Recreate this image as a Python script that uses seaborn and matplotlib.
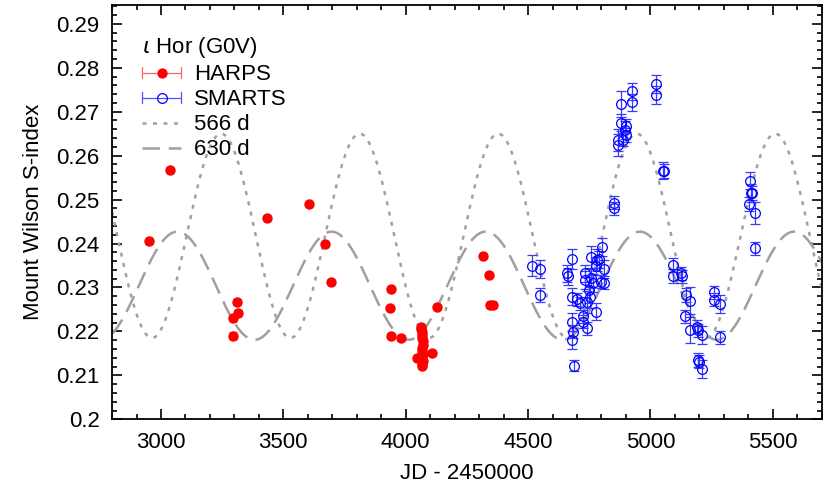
import numpy as np
import pandas as pd
import matplotlib
matplotlib.use('Agg')
import matplotlib.pyplot as plt
from matplotlib.lines import Line2D
from matplotlib.legend_handler import HandlerBase
from matplotlib.ticker import MultipleLocator, FuncFormatter
import seaborn as sns

# HARPS measurements (JD - 2450000, S-index, error)
harps_jd = [2952, 3037, 3293, 3296, 3313, 3309, 3434, 3605, 3672, 3695,
            3941, 3937, 3940, 3979, 4047, 4106, 4128, 4316, 4340, 4344, 4358,
            4062, 4064, 4066, 4067, 4068, 4069, 4070, 4068, 4066, 4071, 4065,
            4069, 4067, 4068]
harps_s = [0.2406, 0.2568, 0.2190, 0.2230, 0.2243, 0.2267, 0.2459, 0.2490,
           0.2398, 0.2313, 0.2296, 0.2253, 0.2189, 0.2184, 0.2140, 0.2150,
           0.2256, 0.2372, 0.2328, 0.2259, 0.2260,
           0.2210, 0.2205, 0.2198, 0.2192, 0.2185, 0.2178, 0.2170, 0.2163,
           0.2155, 0.2148, 0.2140, 0.2133, 0.2127, 0.2122]
harps_err = [0.0004, 0.0004, 0.0008, 0.0006, 0.0005, 0.0004, 0.0004, 0.0004,
             0.0004, 0.0004, 0.0004, 0.0004, 0.0004, 0.0004, 0.0005, 0.0004,
             0.0004, 0.0004, 0.0005, 0.0004, 0.0004,
             0.0004, 0.0004, 0.0004, 0.0004, 0.0004, 0.0004, 0.0004, 0.0004,
             0.0004, 0.0004, 0.0004, 0.0004, 0.0004, 0.0006]

# SMARTS measurements
smarts_jd = [4517, 4548, 4548, 4661, 4664, 4678, 4678, 4680, 4682, 4680,
             4689, 4701, 4713, 4723, 4723, 4741, 4739, 4731, 4731, 4749,
             4753, 4757, 4759, 4766, 4777, 4782, 4789, 4777, 4803, 4810,
             4800, 4810, 4851, 4851, 4868, 4868, 4878, 4878, 4889, 4896,
             4902, 4902, 4925, 4925, 5021, 5021, 5052, 5055, 5093, 5093,
             5127, 5130, 5145, 5143, 5161, 5161, 5191, 5195, 5211, 5195,
             5198, 5211, 5260, 5260, 5284, 5284, 5406, 5413, 5416, 5403,
             5427, 5427]
smarts_s = [0.2350, 0.2342, 0.2283, 0.2332, 0.2325, 0.2365, 0.2279, 0.2221,
            0.2199, 0.2181, 0.2122, 0.2273, 0.2264, 0.2234, 0.2222, 0.2207,
            0.2268, 0.2332, 0.2317, 0.2294, 0.2279, 0.2369, 0.2321, 0.2310,
            0.2349, 0.2363, 0.2364, 0.2245, 0.2392, 0.2342, 0.2313, 0.2311,
            0.2493, 0.2480, 0.2636, 0.2625, 0.2675, 0.2717, 0.2636, 0.2659,
            0.2668, 0.2647, 0.2746, 0.2721, 0.2763, 0.2738, 0.2566, 0.2565,
            0.2351, 0.2326, 0.2332, 0.2325, 0.2283, 0.2234, 0.2270, 0.2203,
            0.2211, 0.2203, 0.2192, 0.2135, 0.2131, 0.2114, 0.2289, 0.2272,
            0.2263, 0.2187, 0.2543, 0.2515, 0.2515, 0.2490, 0.2469, 0.2389]
smarts_err = [0.0023, 0.0020, 0.0015, 0.0020, 0.0020, 0.0022, 0.0020, 0.0020,
              0.0015, 0.0020, 0.0012, 0.0015, 0.0015, 0.0015, 0.0015, 0.0015,
              0.0025, 0.0020, 0.0020, 0.0030, 0.0025, 0.0025, 0.0020, 0.0020,
              0.0020, 0.0025, 0.0020, 0.0020, 0.0020, 0.0020, 0.0015, 0.0015,
              0.0015, 0.0015, 0.0025, 0.0025, 0.0020, 0.0030, 0.0015, 0.0020,
              0.0015, 0.0015, 0.0020, 0.0020, 0.0020, 0.0020, 0.0020, 0.0015,
              0.0015, 0.0015, 0.0015, 0.0015, 0.0015, 0.0015, 0.0030, 0.0030,
              0.0015, 0.0015, 0.0020, 0.0015, 0.0015, 0.0020, 0.0015, 0.0015,
              0.0020, 0.0015, 0.0020, 0.0020, 0.0015, 0.0015, 0.0025, 0.0015]

# sinusoidal cycle models: period, mean level, amplitude, epoch of maximum
cycle_labels = ['566 d', '630 d']
cycle_period = [566, 630]
cycle_mean = [0.24175, 0.2304]
cycle_amp = [0.02325, 0.0123]
cycle_peak = [3246, 3067]

GREY = '#a0a0a0'
DOTS = (1.6, 2.6)
DASH = (7, 3.5)


class HorizErrHandler(HandlerBase):
    """gnuplot style key: horizontal bar with end caps and a marker in the middle"""
    def __init__(self, color, ecolor, filled):
        super().__init__()
        self.color = color
        self.ecolor = ecolor
        self.filled = filled

    def create_artists(self, legend, orig, xd, yd, width, height, fontsize, trans):
        y = yd + height / 2
        cap = height * 0.35
        bar = Line2D([xd, xd + width], [y, y], color=self.ecolor, lw=0.9)
        c1 = Line2D([xd, xd], [y - cap, y + cap], color=self.ecolor, lw=0.9)
        c2 = Line2D([xd + width, xd + width], [y - cap, y + cap], color=self.ecolor, lw=0.9)
        mk = Line2D([xd + width / 2], [y], marker='o', color=self.color,
                    mfc=self.color if self.filled else 'none',
                    markersize=7 if not self.filled else 6.5, mew=0.9, ls='none')
        arts = [bar, c1, c2, mk]
        for a in arts:
            a.set_transform(trans)
        return arts


sns.set_style('ticks')
plt.rcParams['font.family'] = ['Liberation Sans', 'DejaVu Sans']
plt.rcParams['font.size'] = 16
plt.rcParams['text.color'] = 'black'
plt.rcParams['axes.labelcolor'] = 'black'
plt.rcParams['xtick.color'] = 'black'
plt.rcParams['ytick.color'] = 'black'
plt.rcParams['axes.edgecolor'] = 'black'

fig = plt.figure(figsize=(8.3, 4.91), dpi=100)
ax = fig.add_axes([0.135, 0.146, 0.855, 0.844])

grid = np.linspace(2800, 5700, 2000)
frames = []
for lab, per, mu, amp, t0 in zip(cycle_labels, cycle_period, cycle_mean, cycle_amp, cycle_peak):
    frames.append(pd.DataFrame({'jd': grid,
                                's': mu + amp * np.cos(2 * np.pi * (grid - t0) / per),
                                'model': lab}))
models = pd.concat(frames)

sns.lineplot(data=models, x='jd', y='s', hue='model', style='model',
             palette=[GREY, GREY], dashes={'566 d': DOTS, '630 d': DASH},
             linewidth=1.8, ax=ax, zorder=1, legend=False)

ax.errorbar(harps_jd, harps_s, yerr=harps_err, fmt='o', color='#ff0000',
            ecolor='#ff6060', markersize=6.5, capsize=3, elinewidth=0.9,
            zorder=3)
ax.errorbar(smarts_jd, smarts_s, yerr=smarts_err, fmt='o', color='#0000ff',
            mfc='none', ecolor='#3a3aff', markersize=7, mew=0.9, capsize=3.5,
            elinewidth=0.9, zorder=2)

ax.set_xlim(2800, 5700)
ax.set_ylim(0.2, 0.2943)
ax.xaxis.set_major_locator(MultipleLocator(500))
ax.xaxis.set_minor_locator(MultipleLocator(100))
ax.yaxis.set_major_locator(MultipleLocator(0.01))
ax.yaxis.set_minor_locator(MultipleLocator(0.002))
ax.yaxis.set_major_formatter(FuncFormatter(lambda v, p: '%g' % round(v, 3)))
ax.tick_params(which='both', direction='in', top=True, right=True, width=1.2)
ax.tick_params(which='major', length=7, labelsize=16, pad=9)
ax.tick_params(which='minor', length=3.5)
for sp in ax.spines.values():
    sp.set_linewidth(1.3)

ax.set_xlabel('JD - 2450000', fontsize=16, labelpad=7)
ax.set_ylabel('Mount Wilson S-index', fontsize=16, labelpad=9)

h_harps = Line2D([], [], label='HARPS')
h_smarts = Line2D([], [], label='SMARTS')
h_566 = Line2D([], [], color=GREY, lw=1.8, dashes=DOTS, label='566 d')
h_630 = Line2D([], [], color=GREY, lw=1.8, dashes=DASH, label='630 d')

leg = ax.legend(handles=[h_harps, h_smarts, h_566, h_630],
                labels=['HARPS', 'SMARTS', '566 d', '630 d'],
                handler_map={h_harps: HorizErrHandler('#ff0000', '#ff6060', True),
                             h_smarts: HorizErrHandler('#0000ff', '#5050ff', False)},
                loc='upper left', title='$\\iota$ Hor (G0V)', frameon=False,
                fontsize=16, title_fontsize=16, handlelength=1.75,
                handletextpad=0.6, labelspacing=0.18,
                bbox_to_anchor=(0.03, 0.948), borderaxespad=0.0)
leg._legend_box.align = 'left'

fig.savefig('out.png', dpi=100)
